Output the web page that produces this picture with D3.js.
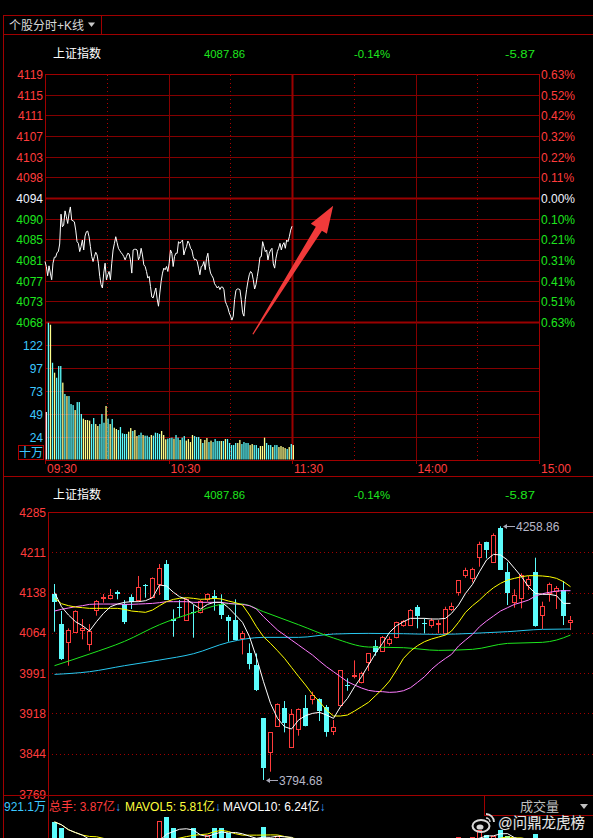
<!DOCTYPE html>
<html><head><meta charset="utf-8">
<script src="https://cdn.jsdelivr.net/npm/d3@7"></script>
<style>
html,body{margin:0;padding:0;background:#000;}
svg{display:block;}
text{font-family:"Liberation Sans","Noto Sans CJK SC",Arial,sans-serif;}
</style></head><body>
<svg id="c" width="593" height="838"></svg>
<script>
// ---------------- DATA ----------------
const indexName = "上证指数";
const headerValues = ["4087.86", "-0.14%", "-5.87"];
const preClose = 4093.73;
const rangePct = 0.0063;

const priceAxisLabels = ["4119","4115","4111","4107","4103","4098","4094","4090","4085","4081","4077","4073","4068"];
const pctAxisLabels = ["0.63%","0.52%","0.42%","0.32%","0.22%","0.11%","0.00%","0.10%","0.21%","0.31%","0.41%","0.51%","0.63%"];
const volAxisValues = [24.4, 48.8, 73.2, 97.6, 122];
const volAxisLabels = ["24","49","73","97","122"];
const timeTicks = [0, 60, 120, 180, 240];
const timeLabels = ["09:30","10:30","11:30","14:00","15:00"];

// intraday price, sampled evenly from 09:30 to 11:30
const intradayPrice = [4080.52,4079.48,4077.56,4079.62,4078.11,4076.73,4080.17,4081.41,4081.41,4082.37,4082.58,4084.16,4090.36,4087.74,4088.09,4091.05,4089.81,4088.43,4090.50,4091.87,4089.12,4088.98,4088.77,4087.05,4084.65,4084.30,4082.58,4083.61,4084.99,4082.92,4085.82,4086.71,4086.85,4085.68,4083.61,4081.55,4080.52,4081.55,4082.44,4081.89,4080.17,4077.42,4075.70,4075.01,4078.11,4080.17,4076.73,4077.76,4078.45,4076.73,4080.17,4082.92,4084.30,4085.68,4084.44,4083.27,4082.79,4082.37,4082.03,4081.55,4080.86,4081.55,4082.24,4082.10,4080.86,4078.11,4082.92,4083.06,4083.06,4082.92,4080.86,4081.55,4083.27,4081.89,4079.83,4079.48,4078.45,4077.07,4077.42,4075.35,4073.15,4072.95,4073.98,4075.01,4072.74,4071.22,4073.98,4076.39,4078.11,4079.14,4078.80,4079.48,4078.45,4080.17,4082.92,4082.24,4079.48,4081.55,4082.24,4082.24,4084.65,4084.30,4084.65,4084.99,4081.89,4082.92,4083.61,4084.78,4084.30,4083.27,4082.92,4081.55,4080.86,4081.00,4080.52,4079.14,4077.76,4079.48,4079.62,4080.52,4078.80,4081.20,4082.24,4079.48,4078.11,4077.56,4077.07,4075.90,4075.49,4075.01,4075.35,4074.67,4075.22,4075.22,4074.67,4072.26,4071.57,4070.88,4069.85,4069.16,4068.33,4069.16,4072.60,4074.53,4074.80,4074.80,4074.67,4072.60,4069.85,4069.16,4072.60,4074.67,4076.39,4077.76,4078.45,4078.11,4076.73,4074.80,4075.70,4077.42,4079.14,4081.41,4081.55,4084.65,4083.61,4082.58,4082.92,4080.86,4082.24,4082.92,4083.27,4080.03,4079.14,4081.20,4082.58,4083.27,4084.30,4082.92,4083.96,4084.44,4083.27,4084.99,4084.65,4085.68,4087.05,4087.86];

// intraday volume per minute (十万), minute 0..120
const intradayVol = [50.6,145.7,143.6,103.1,92.5,87.1,99.6,99.6,81.9,69.8,67.6,67.6,59.1,58.0,52.7,61.2,61.2,48.5,43.5,42.1,42.1,41.4,37.8,44.2,37.8,35.7,37.8,48.5,39.2,57.0,43.5,37.8,43.1,33.9,32.5,31.4,34.6,27.9,27.2,27.2,29.6,33.5,30.4,31.4,25.0,26.1,28.6,26.1,25.4,25.4,24.0,26.1,25.4,28.6,28.2,27.2,30.4,26.1,21.5,22.2,22.9,
23.3,22.2,26.1,23.3,20.8,23.3,25.0,20.1,21.8,18.6,26.1,25.0,24.0,24.0,21.8,17.6,20.8,22.9,18.6,20.1,18.6,21.8,19.7,19.7,19.7,19.7,21.8,21.8,17.6,15.4,15.4,17.6,17.6,20.8,16.5,18.6,17.6,17.6,15.4,16.5,15.4,15.4,12.2,14.4,14.4,23.3,17.6,15.4,15.4,13.3,15.4,15.4,13.3,14.4,13.3,12.2,11.2,13.3,16.5,15.4];
// w = opening, y = up tick, c = down tick
const intradayVolDir = ("wcycycccycycccycccyyyyccyycccycycyycccccyycyyccycccycccc" + "yyycc" +
  "cyccyccyyyycccycyycyccccycycccccyycccc" + "yycccyyycccyccyyyycycy").split("");

// daily candles
const candleOpen = [4134.3,4080.0,4046.5,4066.0,4069.0,4042.8,4105.0,4127.6,4127.0,4138.0,4116.6,4130.0,4124.6,4151.4,4130.0,4153.2,4189.8,4088.6,4111.7,4088.0,4102.6,4101.4,4125.2,4131.9,4117.2,4093.4,4087.3,4055.0,4026.3,4005.0,3907.4,3845.2,3894.0,3925.7,3854.3,3887.9,3926.9,3942.2,3942.2,3928.1,3884.8,3931.8,3968.4,3984.3,3973.3,4009.9,4039.2,4031.2,4045.3,4055.6,4078.2,4078.2,4110.5,4081.2,4078.2,4079.4,4062.9,4106.9,4139.2,4169.7,4163.6,4203.2,4230.7,4194.1,4256.3,4175.8,4120.9,4127.0,4151.4,4175.8,4096.5,4136.1,4140.4,4141.6,4083.1];
const candleHigh = [4153.2,4103.8,4072.1,4105.0,4089.2,4080.0,4123.9,4134.9,4144.1,4141.6,4123.9,4134.3,4167.9,4153.2,4165.4,4189.8,4197.1,4106.9,4123.9,4127.0,4114.8,4123.9,4136.1,4142.2,4134.3,4096.5,4125.2,4067.2,4044.6,4026.3,3907.4,3881.8,3934.8,3939.1,3924.5,3925.7,3950.1,3956.2,3944.0,3931.8,3904.3,3995.2,3980.6,4013.5,3992.8,4026.3,4050.7,4058.1,4056.8,4084.3,4087.3,4107.5,4114.8,4090.4,4090.4,4087.3,4111.7,4119.1,4160.5,4183.1,4183.1,4230.7,4230.7,4245.9,4258.86,4192.9,4143.5,4172.8,4167.9,4201.4,4120.9,4155.7,4149.6,4158.7,4094.7];
const candleLow = [4066.0,4014.1,4003.8,4064.2,4052.0,4031.2,4095.3,4119.1,4125.2,4125.2,4080.0,4107.5,4120.9,4128.2,4128.2,4133.1,4123.9,4056.8,4091.6,4087.3,4055.0,4099.5,4120.9,4104.4,4089.2,4047.7,4050.7,4024.5,3997.1,3957.4,3794.68,3809.8,3894.0,3881.8,3853.7,3875.7,3892.8,3933.0,3902.5,3873.8,3876.9,3928.7,3958.0,3980.6,3971.4,3994.0,4022.1,4031.2,4040.4,4053.8,4075.1,4077.0,4072.1,4062.9,4073.3,4062.9,4061.7,4103.8,4131.9,4164.8,4156.3,4184.9,4200.2,4194.1,4178.8,4114.8,4109.9,4108.7,4142.2,4075.1,4070.9,4120.9,4107.5,4078.2,4069.0];
const candleClose = [4119.7,4016.0,4069.0,4103.8,4072.1,4067.8,4122.7,4130.0,4133.1,4134.3,4083.1,4120.9,4147.1,4149.0,4163.6,4181.9,4124.6,4084.9,4109.3,4125.8,4100.8,4122.1,4134.3,4128.2,4096.5,4086.1,4050.7,4062.9,4006.2,3959.2,3815.9,3881.8,3933.0,3899.5,3915.3,3924.5,3894.0,3950.1,3921.4,3883.0,3890.9,3995.2,3967.2,3986.1,3989.7,4026.3,4029.4,4055.6,4052.0,4083.1,4085.5,4106.3,4095.3,4080.6,4087.3,4081.2,4106.9,4113.0,4160.5,4178.8,4180.7,4225.8,4215.4,4242.9,4178.8,4136.1,4133.1,4169.7,4161.8,4077.0,4113.0,4153.2,4146.5,4095.3,4087.86];
const candleVol = [9.3,8.6,7.2,7.0,6.5,6.8,7.3,6.0,5.8,5.5,7.1,6.2,6.9,5.9,7.0,9.4,9.9,8.6,7.2,7.3,8.6,7.0,7.7,8.6,8.6,8.0,7.3,6.9,7.2,7.3,8.7,7.2,7.6,6.8,7.0,6.4,6.6,5.9,6.2,6.9,5.7,7.3,6.0,6.3,5.8,6.5,6.0,6.6,5.6,6.8,5.9,7.0,6.7,5.8,6.3,6.0,7.2,6.4,7.5,7.1,7.5,8.3,7.7,7.6,8.3,7.6,5.9,6.4,5.6,7.85,6.3,6.1,6.2,6.58,3.87];

// moving averages
const ma5 = [4138.0,4111.7,4096.5,4084.3,4077.0,4067.2,4084.3,4099.5,4111.7,4116.6,4119.7,4120.9,4120.9,4122.7,4128.2,4151.4,4149.6,4138.0,4130.0,4125.2,4116.0,4107.5,4116.0,4119.7,4119.7,4109.9,4096.5,4083.1,4056.8,4018.4,3974.5,3934.8,3907.4,3892.1,3887.9,3904.3,3912.3,3916.5,3918.4,3913.5,3907.4,3928.7,3944.0,3965.3,3983.6,4005.0,4026.3,4044.6,4064.8,4077.0,4084.3,4090.4,4090.4,4090.4,4089.2,4089.2,4090.4,4099.5,4114.8,4136.1,4152.6,4175.8,4197.1,4207.5,4206.3,4197.1,4181.9,4166.6,4148.3,4136.1,4134.3,4134.3,4131.9,4117.8,4117.8];
const ma10 = [4127.0,4117.2,4113.6,4111.1,4109.9,4108.7,4108.7,4108.7,4108.7,4108.7,4106.9,4103.8,4102.6,4101.4,4105.6,4113.6,4120.9,4125.2,4127.0,4128.2,4127.0,4125.2,4125.8,4127.0,4125.8,4122.1,4119.1,4114.8,4096.5,4075.1,4056.8,4044.6,4031.2,4017.2,4000.7,3984.3,3968.4,3951.3,3937.9,3922.6,3911.7,3911.7,3913.5,3920.8,3928.7,3936.7,3948.9,3961.1,3975.7,3995.8,4017.2,4030.6,4040.4,4047.7,4052.6,4056.2,4059.9,4067.2,4083.1,4101.4,4113.6,4123.9,4136.1,4146.5,4154.4,4160.5,4163.6,4166.6,4168.5,4168.5,4167.9,4166.6,4163.6,4157.5,4148.3];
const ma20 = [4103.8,4106.9,4109.3,4111.7,4113.6,4116.0,4116.6,4116.6,4116.6,4116.6,4116.0,4116.0,4116.6,4117.2,4117.8,4119.1,4120.9,4120.9,4120.9,4120.9,4119.7,4119.7,4119.7,4119.7,4119.7,4117.8,4116.6,4116.0,4113.6,4107.5,4093.4,4081.2,4069.0,4059.9,4050.7,4041.6,4032.4,4023.3,4012.3,4001.9,3992.8,3983.6,3974.5,3968.4,3962.9,3958.6,3956.8,3956.2,3955.0,3955.6,3958.0,3963.5,3973.3,3983.6,3997.1,4008.0,4017.2,4024.5,4039.8,4050.7,4061.1,4075.1,4085.5,4094.7,4103.8,4109.9,4116.0,4119.7,4123.9,4131.3,4135.5,4138.0,4140.4,4141.0,4141.0];
const ma60Idx = [0,5,10,15,20,25,27,30,35,40,45,50,55,60,65,70,72,74];
const ma60 = [4003.8,4025.1,4048.3,4078.8,4100.8,4117.2,4116.6,4102.6,4078.8,4054.4,4037.9,4036.7,4031.8,4033.7,4044.6,4046.5,4050.7,4059.9];
const ma120Idx = [0,5,10,15,20,25,30,35,40,45,50,55,60,65,70,74];
const ma120 = [3987.9,3992.8,4003.8,4014.1,4025.7,4046.5,4055.6,4055.6,4061.7,4062.9,4062.3,4061.1,4062.9,4066.0,4070.3,4070.9];

const kAxisLabels = ["4285","4211","4138","4064","3991","3918","3844","3769"];
const kDomain = [3769, 4285];
const highLabel = "4258.86", lowLabel = "3794.68";
const volPaneMaxLabel = "921.1万";
const volInfo = [["总手: 3.87亿", "#ff3c3c"], ["MAVOL5: 5.81亿", "#ffff3c"], ["MAVOL10: 6.24亿", "#ffffff"]];
// annotation arrow (minute, price) on intraday chart
const arrowTail = {m: 101, p: 4065.4};
const arrowHead = {m: 140, p: 4092.1};

// ---------------- DRAW ----------------
(function () {
const svg = d3.select("#c");
const RED = "#ff3c3c", GREEN = "#1ee61e", GRID = "#840000", FRAME = "#a00000";
const CYAN_V = "#5cfcfc", YEL_V = "#ffff8c", AXCYAN = "#3cc8ff";
svg.append("rect").attr("width", 593).attr("height", 838).attr("fill", "#000");

function hline(g, y, x1, x2, color, w, dash) {
  g.append("line").attr("x1", x1).attr("x2", x2).attr("y1", y).attr("y2", y)
    .attr("stroke", color).attr("stroke-width", w || 1).attr("stroke-dasharray", dash || null);
}
function vline(g, x, y1, y2, color, w, dash) {
  g.append("line").attr("x1", x).attr("x2", x).attr("y1", y1).attr("y2", y2)
    .attr("stroke", color).attr("stroke-width", w || 1).attr("stroke-dasharray", dash || null);
}

// window frame
const fr = svg.append("g");
hline(fr, 15.5, 3, 593, FRAME);
hline(fr, 34.5, 3, 593, FRAME);
vline(fr, 3.5, 15, 838, FRAME);
vline(fr, 101.5, 15, 34, FRAME);
fr.append("text").attr("x", 9).attr("y", 29.5).attr("fill", "#d8d8d8").attr("font-size", 12).text("个股分时+K线");
fr.append("path").attr("d", "M88,22.5 L95,22.5 L91.5,27 Z").attr("fill", "#c8c8c8");
hline(fr, 476.5, 3, 593, FRAME);

function header(y) {
  const g = svg.append("g");
  g.append("text").attr("x", 53).attr("y", y).attr("fill", "#fff").attr("font-size", 12).text(indexName);
  const xs = [204, 354, 505], lens = [41, 36, 30];
  headerValues.forEach((t, i) => {
    g.append("text").attr("x", xs[i]).attr("y", y).attr("fill", GREEN).attr("font-size", 11.5)
      .attr("font-family", "Liberation Mono, monospace")
      .attr("textLength", lens[i]).attr("lengthAdjust", "spacingAndGlyphs").text(t);
  });
}
header(57.5);

// ---- intraday chart ----
const xT = d3.scaleLinear().domain([0, 240]).range([45, 539]);
const yP = d3.scaleLinear().domain([preClose * (1 - rangePct), preClose * (1 + rangePct)]).range([322, 74]);
const yV = d3.scaleLinear().domain([0, 122]).range([459.5, 345]);
const tg = svg.append("g");
const levels = d3.range(13).map(j => preClose * (1 + rangePct * (6 - j) / 6));
levels.forEach((lv, j) => {
  const y = Math.round(yP(lv)) + 0.5;
  const thick = (j === 6 || j === 12);
  hline(tg, y, 45, 539, thick ? "#9a0000" : GRID, thick ? 2 : 1);
  const col = j < 6 ? RED : (j === 6 ? "#f0f4ff" : GREEN);
  tg.append("text").attr("x", 43).attr("y", y + 4.5).attr("text-anchor", "end").attr("fill", col)
    .attr("font-size", 12).text(priceAxisLabels[j]);
  tg.append("text").attr("x", 541).attr("y", y + 4.5).attr("fill", col)
    .attr("font-size", 12).text(pctAxisLabels[j]);
});
volAxisValues.forEach((v, j) => {
  const y = Math.round(yV(v)) + 0.5;
  hline(tg, y, 45, 539, GRID);
  tg.append("text").attr("x", 43).attr("y", y + 4.5).attr("text-anchor", "end").attr("fill", AXCYAN)
    .attr("font-size", 12).text(volAxisLabels[j]);
});
hline(tg, 460.5, 45, 539, FRAME);
hline(tg, 74.5, 45, 539, FRAME);
// vertical grid
[30, 90, 150, 210].forEach(m => vline(tg, Math.round(xT(m)) + 0.5, 75, 460, "#b00000", 1, "1,3"));
[60, 180].forEach(m => vline(tg, Math.round(xT(m)) + 0.5, 74, 460, GRID));
vline(tg, Math.round(xT(120)) + 0.5, 74, 460, "#9a0000", 2);
vline(tg, 45.5, 74, 464, FRAME);
vline(tg, 539.5, 74, 464, FRAME);
timeTicks.forEach((m, i) => {
  vline(tg, Math.round(xT(m)) + 0.5, 460, 464, FRAME);
  tg.append("text").attr("x", xT(m) + 2).attr("y", 473).attr("fill", RED).attr("font-size", 12).text(timeLabels[i]);
});
// 十万 box
tg.append("rect").attr("x", 18.5).attr("y", 445.5).attr("width", 25).attr("height", 14)
  .attr("fill", "none").attr("stroke", "#b00000");
tg.append("text").attr("x", 31).attr("y", 457).attr("text-anchor", "middle").attr("fill", AXCYAN)
  .attr("font-size", 12).text("十万");

// volume bars
const dirColor = {w: "#f0f0f0", y: YEL_V, c: CYAN_V};
tg.append("g").selectAll("rect").data(intradayVol).join("rect")
  .attr("x", (d, i) => xT(i) + 0.7).attr("width", 1.3)
  .attr("y", d => yV(d)).attr("height", d => yV(0) - yV(d))
  .attr("fill", (d, i) => dirColor[intradayVolDir[i]] || CYAN_V);

// price line
const nP = intradayPrice.length;
tg.append("path").datum(intradayPrice)
  .attr("d", d3.line().x((d, i) => xT(i * 120 / (nP - 1))).y(d => yP(d)))
  .attr("fill", "none").attr("stroke", "#fff").attr("stroke-width", 1);

// arrow annotation
(function () {
  const T = [xT(arrowTail.m), yP(arrowTail.p)], P = [xT(arrowHead.m), yP(arrowHead.p)];
  const dx = P[0] - T[0], dy = P[1] - T[1], L = Math.hypot(dx, dy);
  const u = [dx / L, dy / L], n = [-u[1], u[0]];
  const B = [P[0] - u[0] * 27, P[1] - u[1] * 27];
  const pt = (b, k) => [b[0] + n[0] * k, b[1] + n[1] * k];
  const pts = [pt(T, 0.6), pt(B, 3.6), pt(B, 9.5), P, pt(B, -9.5), pt(B, -3.6), pt(T, -0.6)];
  tg.append("path").attr("d", "M" + pts.map(p => p.join(",")).join("L") + "Z").attr("fill", "#f03a3a");
})();

// ---- daily K chart ----
header(498.5);
const yK = d3.scaleLinear().domain(kDomain).range([794, 512]);
const xK = d3.scaleBand().domain(d3.range(candleOpen.length)).range([49.5, 574.5]).padding(0.28);
const cx = i => Math.round(xK(i) + xK.bandwidth() / 2);
const kg = svg.append("g");
const kStep = (kDomain[1] - kDomain[0]) / 7;
kAxisLabels.forEach((t, k) => {
  const v = kDomain[1] - k * kStep;
  const y = Math.round(yK(v)) + 0.5;
  if (k > 0 && k < 7) hline(kg, y, 48, 593, "#a00000", 1, "1,3");
  kg.append("text").attr("x", 46).attr("y", yK(v) + 4.5).attr("text-anchor", "end").attr("fill", RED)
    .attr("font-size", 12).text(t);
});
hline(kg, 512.5, 48, 593, FRAME);
hline(kg, 795.5, 3, 593, FRAME);
vline(kg, 48.5, 512, 838, FRAME);

svg.append("clipPath").attr("id", "kclip").append("rect").attr("x", 49).attr("y", 513).attr("width", 544).attr("height", 282);
const cg = svg.append("g").attr("clip-path", "url(#kclip)");
const RC = "#ff3c3c", CC = "#5cfcfc";
candleOpen.forEach((o, i) => {
  const c = candleClose[i], h = candleHigh[i], l = candleLow[i];
  const up = c >= o;
  const x = cx(i);
  const col = up ? RC : CC;
  const yt = Math.round(yK(Math.max(o, c))), yb = Math.round(yK(Math.min(o, c)));
  cg.append("line").attr("x1", x + 0.5).attr("x2", x + 0.5).attr("y1", yK(h)).attr("y2", yt).attr("stroke", col);
  cg.append("line").attr("x1", x + 0.5).attr("x2", x + 0.5).attr("y1", yb).attr("y2", yK(l)).attr("stroke", col);
  if (up) {
    cg.append("rect").attr("x", x - 1.5).attr("y", yt + 0.5).attr("width", 4).attr("height", Math.max(yb - yt, 1))
      .attr("fill", "#000").attr("stroke", col);
  } else {
    cg.append("rect").attr("x", x - 2).attr("y", yt).attr("width", 5).attr("height", Math.max(yb - yt, 1)).attr("fill", col);
  }
});
const maLine = (idx) => d3.line().x((d, j) => cx(idx ? idx[j] : j) + 0.5).y(d => yK(d));
cg.append("path").datum(ma120).attr("d", maLine(ma120Idx).curve(d3.curveMonotoneX)).attr("fill", "none").attr("stroke", "#28c8f0");
cg.append("path").datum(ma60).attr("d", maLine(ma60Idx).curve(d3.curveMonotoneX)).attr("fill", "none").attr("stroke", "#1ee61e");
cg.append("path").datum(ma20).attr("d", maLine(null)).attr("fill", "none").attr("stroke", "#ff7cff");
cg.append("path").datum(ma10).attr("d", maLine(null)).attr("fill", "none").attr("stroke", "#ffff00");
cg.append("path").datum(ma5).attr("d", maLine(null)).attr("fill", "none").attr("stroke", "#ffffff");

// high / low annotations
function extremeNote(i, price, label) {
  const x = cx(i) + 3, y = Math.round(yK(price)) + 0.5;
  kg.append("line").attr("x1", x + 1).attr("x2", x + 12).attr("y1", y).attr("y2", y).attr("stroke", "#a8a8b8");
  kg.append("path").attr("d", `M${x},${y} L${x + 4},${y - 2.5} L${x + 4},${y + 2.5}Z`).attr("fill", "#a8a8b8");
  kg.append("text").attr("x", x + 13).attr("y", y + 4.5).attr("fill", "#b8b8c8").attr("font-size", 12).text(label);
}
const hiIdx = d3.maxIndex(candleHigh), loIdx = d3.minIndex(candleLow);
extremeNote(hiIdx, candleHigh[hiIdx], highLabel);
extremeNote(loIdx, candleLow[loIdx], lowLabel);

// ---- volume pane header ----
const vh = svg.append("g");
vh.append("text").attr("x", 4).attr("y", 811).attr("fill", AXCYAN).attr("font-size", 12).text(volPaneMaxLabel);
const vxs = [49, 125, 223];
volInfo.forEach((d, i) => {
  const t = vh.append("text").attr("x", vxs[i]).attr("y", 811).attr("font-size", 12);
  t.append("tspan").attr("fill", d[1]).text(d[0]);
  t.append("tspan").attr("fill", "#3ca0ff").text("↓");
});
vline(vh, 484.5, 795, 815, FRAME);
hline(vh, 815.5, 484, 593, FRAME);
vh.append("text").attr("x", 520).attr("y", 811).attr("fill", "#c0c0c0").attr("font-size", 13).text("成交量");
vh.append("path").attr("d", "M580,804 L588,804 L584,809 Z").attr("fill", "#c0c0c0");

// ---- volume pane (partly visible) ----
svg.append("clipPath").attr("id", "vclip2").append("rect").attr("x", 49).attr("y", 816).attr("width", 544).attr("height", 22);
const yVK = d3.scaleLinear().domain([0, 10]).range([900, 816]);
const vg = svg.append("g").attr("clip-path", "url(#vclip2)");
candleVol.forEach((v, i) => {
  const up = candleClose[i] >= candleOpen[i];
  const x = cx(i), y = Math.round(yVK(v));
  if (up) vg.append("rect").attr("x", x - 1.5).attr("y", y + 0.5).attr("width", 4).attr("height", 900 - y).attr("fill", "none").attr("stroke", RC);
  else vg.append("rect").attr("x", x - 2).attr("y", y).attr("width", 5).attr("height", 900 - y).attr("fill", CC);
});
const mavol = n => candleVol.map((v, i) => d3.mean(candleVol.slice(Math.max(0, i - n + 1), i + 1)));
vg.append("path").datum(mavol(10)).attr("d", maLine(null).y(d => yVK(d))).attr("fill", "none").attr("stroke", "#ffff00");
vg.append("path").datum(mavol(5)).attr("d", maLine(null).y(d => yVK(d))).attr("fill", "none").attr("stroke", "#ffffff");

// ---- watermark ----
const wm = svg.append("g");
wm.append("ellipse").attr("cx", 481).attr("cy", 826).attr("rx", 8.5).attr("ry", 6).attr("fill", "none").attr("stroke", "#d8d8d8").attr("stroke-width", 2);
wm.append("ellipse").attr("cx", 480).attr("cy", 827).attr("rx", 3.5).attr("ry", 2.6).attr("fill", "#d8d8d8");
wm.append("path").attr("d", "M486,814 A8,8 0 0 1 494,822").attr("fill", "none").attr("stroke", "#d8d8d8").attr("stroke-width", 1.8);
wm.append("path").attr("d", "M486,818 A4,4 0 0 1 490,822").attr("fill", "none").attr("stroke", "#d8d8d8").attr("stroke-width", 1.4);
wm.append("text").attr("x", 498).attr("y", 828).attr("fill", "#e6e6e6").attr("font-size", 14.5)
  .attr("font-family", "Noto Sans CJK SC, sans-serif")
  .attr("textLength", 87).attr("lengthAdjust", "spacingAndGlyphs")
  .attr("stroke", "#222").attr("stroke-width", 0.6).attr("paint-order", "stroke").text("@问鼎龙虎榜");
})();
</script>
</body></html>
